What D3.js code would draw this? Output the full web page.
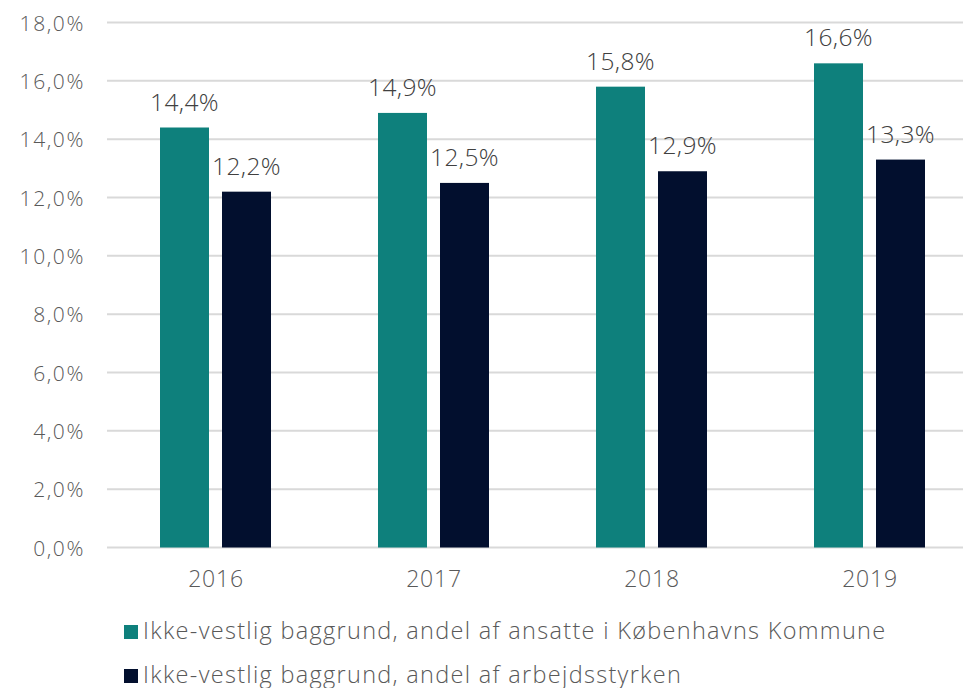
<!DOCTYPE html>
<html><head><meta charset="utf-8">
<script src="https://cdn.jsdelivr.net/npm/d3@7"></script>
<style>body{margin:0;background:#fff}svg{display:block}text{font-family:"Open Sans",sans-serif;fill:#595959;font-weight:300}</style>
</head><body><svg id="c" width="965" height="688"></svg>
<script>
const years = ["2016","2017","2018","2019"];
const seriesNames = ["Ikke-vestlig baggrund, andel af ansatte i Københavns Kommune","Ikke-vestlig baggrund, andel af arbejdsstyrken"];
const ansatte = [14.4, 14.9, 15.8, 16.6];
const arbejdsstyrken = [12.2, 12.5, 12.9, 13.3];
const yTicks = [0,2,4,6,8,10,12,14,16,18];
const colors = ["#0e807c","#020f2e"];
const series = [ansatte, arbejdsstyrken];
const FONT = "'Open Sans',sans-serif";

const svg = d3.select("#c");
const x = d3.scaleBand().domain(years).range([107,979]);
const y = d3.scaleLinear().domain([0,18]).range([547.5,22.5]);
const x1 = d3.scaleBand().domain([0,1]).range([53,164]).paddingInner(13/62);
const fmt = v => d3.format(".1f")(v).replace(".", ",") + "%";

svg.append("g").selectAll("line").data(yTicks).join("line")
  .attr("x1",107).attr("x2",963).attr("y1",d=>y(d)).attr("y2",d=>y(d))
  .attr("stroke","#d9d9d9").attr("stroke-width",2);

const ya = svg.append("g").attr("transform","translate(85,0)")
  .call(d3.axisLeft(y).tickValues(yTicks).tickFormat(fmt).tickSize(0).tickPadding(0));
ya.select(".domain").remove();
ya.selectAll("text").attr("font-size",21).attr("fill","#595959").attr("font-family",FONT)
  .attr("letter-spacing",1.6).attr("dy","0.36em");

const xa = svg.append("g").attr("transform","translate(0,570)")
  .call(d3.axisBottom(x).tickSize(0).tickPadding(0));
xa.select(".domain").remove();
xa.selectAll("text").attr("font-size",23).attr("fill","#595959").attr("font-family",FONT)
  .attr("letter-spacing",0.8).attr("dy","0.74em");

series.forEach((s,i)=>{
  const g = svg.append("g");
  g.selectAll("rect").data(s).join("rect")
    .attr("x",(d,j)=>x(years[j])+x1(i)).attr("width",x1.bandwidth())
    .attr("y",d=>y(d)).attr("height",d=>y(0)-y(d)).attr("fill",colors[i]);
  g.selectAll("text").data(s).join("text")
    .attr("x",(d,j)=>x(years[j])+x1(i)+x1.bandwidth()/2).attr("y",d=>y(d)-17)
    .attr("text-anchor","middle").attr("font-size",24.5).attr("letter-spacing",0.4)
    .style("fill","#404040").text(fmt);
});

const lg = svg.append("g");
seriesNames.forEach((n,i)=>{
  lg.append("rect").attr("x",124).attr("y",625+i*44).attr("width",14).attr("height",14).attr("fill",colors[i]);
  lg.append("text").attr("x",143).attr("y",639+i*44).attr("font-size",23.5).attr("letter-spacing",1.3).text(n);
});
</script></body></html>
